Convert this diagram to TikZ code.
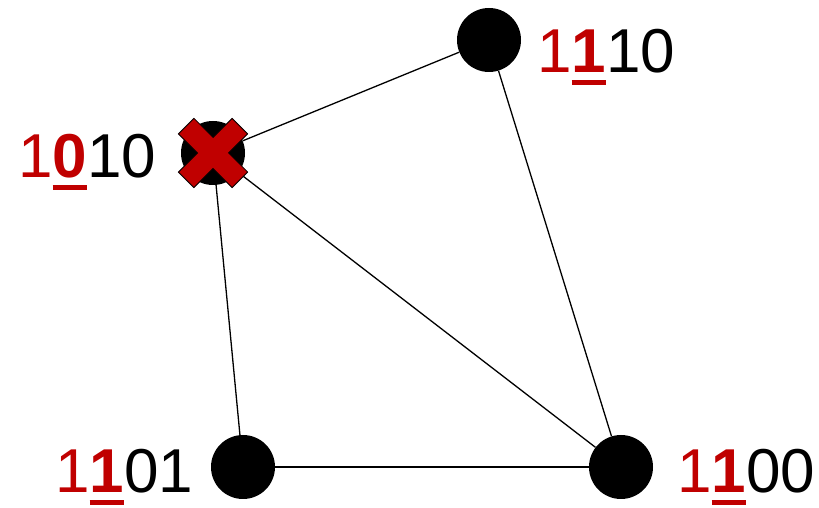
\documentclass[tikz,border=0pt]{standalone}
\usepackage{fontspec}
\setmainfont{Liberation Sans}
\definecolor{hred}{HTML}{C00000}
\newsavebox{\digbox}
\newcommand{\hdig}[1]{\sbox{\digbox}{\textcolor{hred}{\textbf{#1}}}\rlap{\textcolor{hred}{\rule[-12pt]{\wd\digbox}{5pt}}}\usebox{\digbox}}
\begin{document}
\begin{tikzpicture}[x=1pt,y=1pt,
  vert/.style={circle,fill=black,minimum size=64pt,inner sep=0pt},
  lab/.style={anchor=base west,inner sep=0pt,font=\fontsize{62}{62}\selectfont},
  edge/.style={draw=black,line width=1.3pt}]
\useasboundingbox (0,0) rectangle (819,508);
\node[vert] (a) at (489,468) {};
\node[vert] (b) at (213,355) {};
\node[vert] (c) at (243,41) {};
\node[vert] (d) at (621,41) {};
\draw[edge] (b) -- (a);
\draw[edge] (b) -- (d);
\draw[edge] (b) -- (c);
\draw[edge] (a) -- (d);
\draw[edge] (c) -- (d);
\fill[hred,draw=black,line width=0.8pt,rotate around={45:(213,355)},shift={(213,355)}]
  (38,11) -- (11,11) -- (11,38) -- (-11,38) -- (-11,11) -- (-38,11) -- (-38,-11)
  -- (-11,-11) -- (-11,-38) -- (11,-38) -- (11,-11) -- (38,-11) -- cycle;
\node[lab] (la) at (537,435) {\textcolor{hred}{1}\hdig{1}10};
\node[lab] (lb) at (18,330) {\textcolor{hred}{1}\hdig{0}10};
\node[lab] (lc) at (55,15) {\textcolor{hred}{1}\hdig{1}01};
\node[lab] (ld) at (677,15) {\textcolor{hred}{1}\hdig{1}00};
\end{tikzpicture}
\end{document}
